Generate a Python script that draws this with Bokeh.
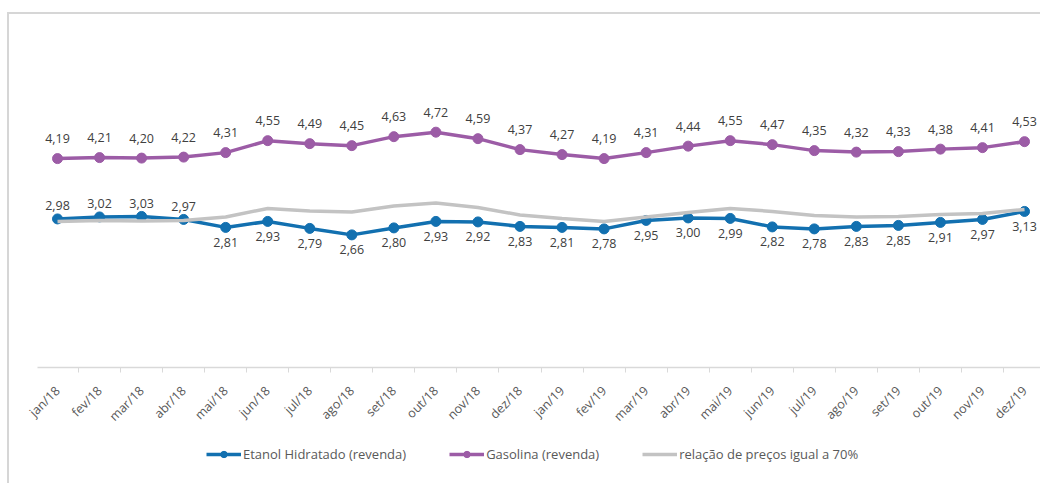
from math import pi
from bokeh.plotting import figure
from bokeh.layouts import column
from bokeh.models import Range1d, FixedTicker, Legend, LegendItem, ColumnDataSource
from bokeh.embed import file_html
from bokeh.resources import INLINE
from bokeh.core.properties import value

months = ["jan/18", "fev/18", "mar/18", "abr/18", "mai/18", "jun/18", "jul/18", "ago/18",
          "set/18", "out/18", "nov/18", "dez/18", "jan/19", "fev/19", "mar/19", "abr/19",
          "mai/19", "jun/19", "jul/19", "ago/19", "set/19", "out/19", "nov/19", "dez/19"]
gasolina = [4.19, 4.21, 4.20, 4.22, 4.31, 4.55, 4.49, 4.45, 4.63, 4.72, 4.59, 4.37,
            4.27, 4.19, 4.31, 4.44, 4.55, 4.47, 4.35, 4.32, 4.33, 4.38, 4.41, 4.53]
etanol = [2.98, 3.02, 3.03, 2.97, 2.81, 2.93, 2.79, 2.66, 2.80, 2.93, 2.92, 2.83,
          2.81, 2.78, 2.95, 3.00, 2.99, 2.82, 2.78, 2.83, 2.85, 2.91, 2.97, 3.13]
relacao = [2.93, 2.95, 2.94, 2.95, 3.02, 3.19, 3.14, 3.12, 3.24, 3.30, 3.21, 3.06,
           2.99, 2.93, 3.02, 3.11, 3.19, 3.13, 3.05, 3.02, 3.03, 3.07, 3.09, 3.17]
series_names = ["Etanol Hidratado (revenda)", "Gasolina (revenda)", "relação de preços igual a 70%"]

BLUE = "#1270B0"
PURPLE = "#9C5CA6"
GRAY = "#C3C3C3"
FRAME = "#d6d6d6"
FONT = "Open Sans"

idx = list(range(len(months)))

def fmt(v):
    return f"{v:.2f}".replace(".", ",")

W = 1040
p = figure(width=W, height=433, output_backend="svg", toolbar_location=None,
           x_range=Range1d(-0.476, 23.38), y_range=Range1d(0, 7),
           min_border_left=37, min_border_right=0, min_border_top=18, min_border_bottom=65)
p.styles = {"background": (f"linear-gradient({FRAME},{FRAME}) 7px 12px / 100% 2px no-repeat, "
                           f"linear-gradient({FRAME},{FRAME}) 7px 12px / 2px 100% no-repeat, white")}
p.outline_line_color = None
p.background_fill_alpha = 0
p.border_fill_alpha = 0
p.xgrid.visible = False
p.ygrid.visible = False
p.yaxis.visible = False

ax = p.xaxis[0]
ax.ticker = FixedTicker(ticks=idx, minor_ticks=[i - 0.5 for i in range(len(months) + 1)])
ax.major_label_overrides = {i: m for i, m in enumerate(months)}
ax.major_label_orientation = pi / 4
ax.major_tick_line_color = None
ax.major_tick_in = 0
ax.major_tick_out = 0
ax.minor_tick_in = 0
ax.minor_tick_out = 5
ax.minor_tick_line_color = "#d9d9d9"
ax.axis_line_color = "#d9d9d9"
ax.axis_line_width = 1.5
ax.major_label_text_font = FONT
ax.major_label_text_font_size = "12.5px"
ax.major_label_text_color = "#595959"
ax.major_label_standoff = 16

src = ColumnDataSource(dict(x=idx, g=gasolina, e=etanol, r=relacao,
                            gl=[fmt(v) for v in gasolina]))

p.line("x", "e", source=src, line_color=BLUE, line_width=3.5)
p.scatter("x", "e", source=src, size=10, fill_color=BLUE, line_color=BLUE)
p.line("x", "g", source=src, line_color=PURPLE, line_width=3.5)
p.scatter("x", "g", source=src, size=10, fill_color=PURPLE, line_color=PURPLE)
p.line("x", "r", source=src, line_color=GRAY, line_width=3.5)

# data labels
p.text("x", "g", text="gl", source=src, text_align="center", text_baseline="middle",
       y_offset=-20, text_font=value(FONT), text_font_size="12.5px", text_color="#404040")
n_above = 4
src_ea = ColumnDataSource(dict(x=idx[:n_above], y=etanol[:n_above], t=[fmt(v) for v in etanol[:n_above]]))
src_eb = ColumnDataSource(dict(x=idx[n_above:], y=etanol[n_above:], t=[fmt(v) for v in etanol[n_above:]]))
p.text("x", "y", text="t", source=src_ea, text_align="center", text_baseline="middle",
       y_offset=-13, text_font=value(FONT), text_font_size="12.5px", text_color="#404040")
p.text("x", "y", text="t", source=src_eb, text_align="center", text_baseline="middle",
       y_offset=15, text_font=value(FONT), text_font_size="12.5px", text_color="#404040")

# legend strip (a second figure holding only the legend)
q = figure(width=W, height=50, output_backend="svg", toolbar_location=None,
           x_range=Range1d(0, 1), y_range=Range1d(0, 1),
           min_border_left=0, min_border_right=0, min_border_top=0, min_border_bottom=0)
q.styles = {"background": f"linear-gradient({FRAME},{FRAME}) 7px 0 / 2px 100% no-repeat, white"}
q.outline_line_color = None
q.background_fill_alpha = 0
q.border_fill_alpha = 0
q.xaxis.visible = False
q.yaxis.visible = False
q.xgrid.visible = False
q.ygrid.visible = False
off = [-10, -9]  # placeholder renderers outside the visible range, used only for legend glyphs
le = q.line(off, off, line_color=BLUE, line_width=3.5)
se = q.scatter(off, off, size=10, fill_color=BLUE, line_color=BLUE)
lg = q.line(off, off, line_color=PURPLE, line_width=3.5)
sg = q.scatter(off, off, size=10, fill_color=PURPLE, line_color=PURPLE)
lr = q.line(off, off, line_color=GRAY, line_width=3.5)

legend = Legend(items=[
    LegendItem(label=series_names[0], renderers=[le, se]),
    LegendItem(label=series_names[1], renderers=[lg, sg]),
    LegendItem(label=series_names[2], renderers=[lr]),
], orientation="horizontal", location=(169, 20), glyph_width=35, glyph_height=16,
    label_standoff=2, spacing=43, border_line_color=None, background_fill_alpha=0,
    label_text_font=FONT, label_text_font_size="13px", label_text_color="#595959",
    padding=0, margin=0)
q.add_layout(legend)

layout = column(p, q, spacing=0)
open("out.html", "w").write(file_html(layout, INLINE))
